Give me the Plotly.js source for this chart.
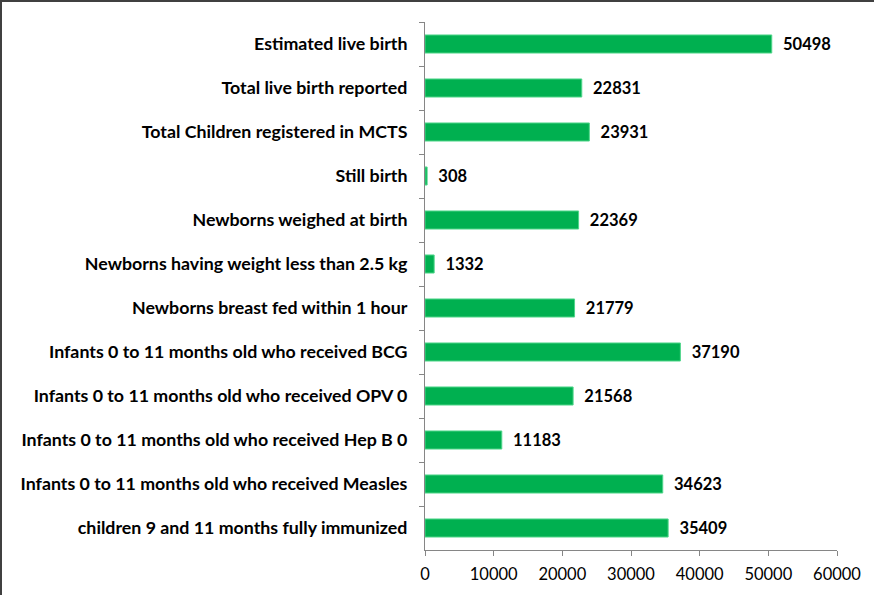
<!DOCTYPE html>
<html>
<head>
<meta charset="utf-8">
<script src="https://cdn.plot.ly/plotly-3.0.1.min.js"></script>
<style>
  html, body { margin: 0; padding: 0; background: #fff; }
  #wrap { position: relative; width: 874px; height: 595px; overflow: hidden; }
  #chart { position: absolute; left: 0; top: 0; width: 874px; height: 595px; }
  #frame { position: absolute; left: 0; top: 0; width: 900px; height: 700px;
           border-top: 2px solid #404040; border-left: 2px solid #404040; pointer-events: none; }
</style>
</head>
<body>
<div id="wrap">
  <div id="chart"></div>
  <div id="frame"></div>
</div>
<script>
const categories = [
  "Estimated live birth",
  "Total live birth reported",
  "Total Children registered in MCTS",
  "Still birth",
  "Newborns weighed at birth",
  "Newborns having weight less than 2.5 kg",
  "Newborns breast fed within 1 hour",
  "Infants 0 to 11 months old who received BCG",
  "Infants 0 to 11 months old who received OPV 0",
  "Infants 0 to 11 months old who received Hep B 0",
  "Infants 0 to 11 months old who received Measles",
  "children 9 and 11 months fully immunized"
];
const values = [50498, 22831, 23931, 308, 22369, 1332, 21779, 37190, 21568, 11183, 34623, 35409];
const xTicks = [0, 10000, 20000, 30000, 40000, 50000, 60000];

const FONT = "Lato, 'Open Sans', sans-serif";

const trace = {
  type: "bar",
  orientation: "h",
  y: categories,
  x: values,
  marker: { color: "#00B050", line: { color: "#4fd68a", width: 1 } },
  text: values.map(v => "\u2002" + v),
  textposition: "outside",
  constraintext: "none",
  cliponaxis: false,
  textfont: { family: FONT, size: 16.5, color: "#000", weight: "bold" },
  hoverinfo: "none"
};

const layout = {
  width: 874,
  height: 595,
  margin: { l: 425, r: 37, t: 22, b: 45, pad: 0 },
  paper_bgcolor: "#fff",
  plot_bgcolor: "#fff",
  showlegend: false,
  bargap: 0.59,
  font: { family: FONT, color: "#000" },
  xaxis: {
    range: [0, 60000],
    tickvals: xTicks,
    ticktext: xTicks.map(String),
    showgrid: false,
    zeroline: false,
    showline: true,
    linecolor: "#868686",
    linewidth: 1,
    ticks: "outside",
    ticklen: 5,
    tickcolor: "#868686",
    ticklabelstandoff: 4,
    tickfont: { family: FONT, size: 16.5, color: "#000" },
    automargin: false
  },
  yaxis: {
    type: "category",
    autorange: "reversed",
    showgrid: false,
    zeroline: false,
    showline: true,
    linecolor: "#868686",
    linewidth: 1,
    ticks: "outside",
    tickson: "boundaries",
    ticklen: 5,
    tickcolor: "#868686",
    ticklabelstandoff: 13,
    tickfont: { family: FONT, size: 17.8, color: "#000", weight: "bold" },
    automargin: false
  }
};

Plotly.newPlot("chart", [trace], layout, { staticPlot: true, displayModeBar: false });
</script>
</body>
</html>
